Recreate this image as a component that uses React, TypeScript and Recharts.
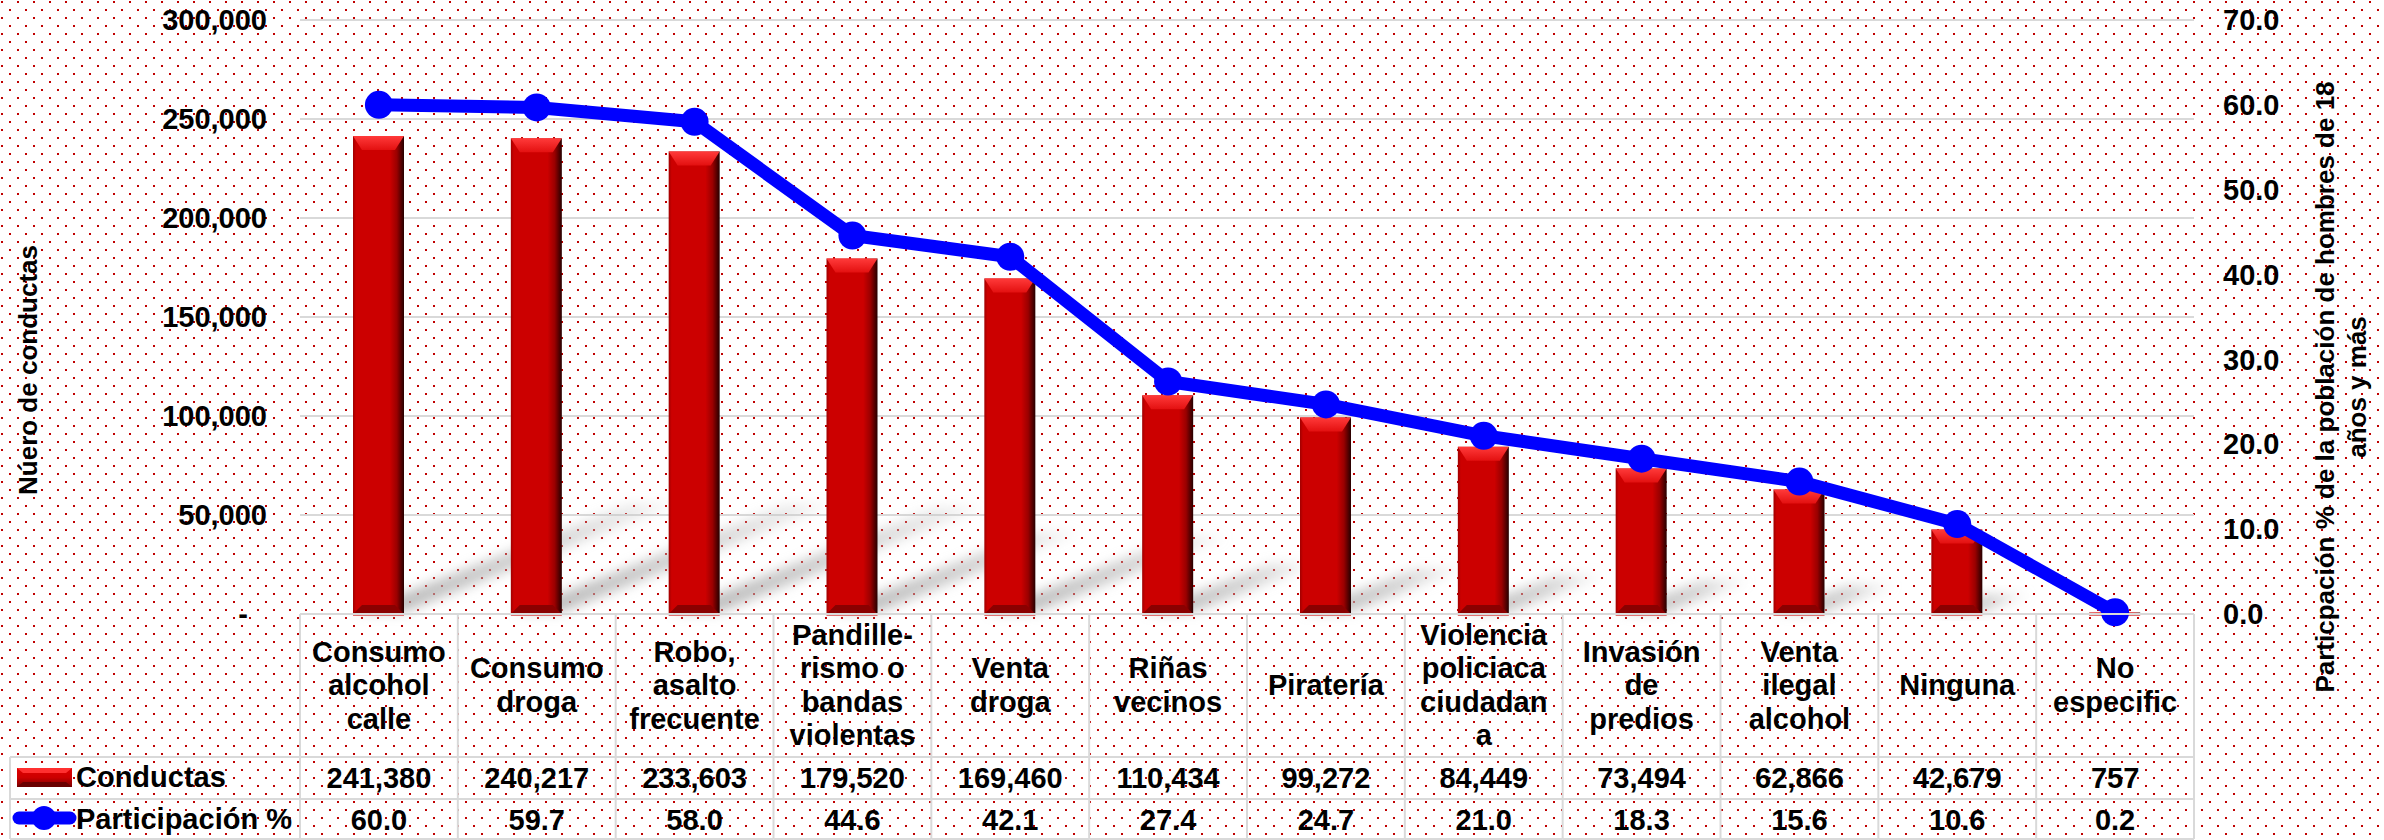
import { Bar, CartesianGrid, ComposedChart, Line, XAxis, YAxis } from "recharts";

const categories = [
  "Consumo\nalcohol\ncalle",
  "Consumo\ndroga",
  "Robo,\nasalto\nfrecuente",
  "Pandille-\nrismo o\nbandas\nviolentas",
  "Venta\ndroga",
  "Riñas\nvecinos",
  "Piratería",
  "Violencia\npoliciaca\nciudadan\na",
  "Invasión\nde\npredios",
  "Venta\nilegal\nalcohol",
  "Ninguna",
  "No\nespecific",
];
const conductas = [
  241380, 240217, 233603, 179520, 169460, 110434, 99272, 84449, 73494, 62866,
  42679, 757,
];
const participacion = [
  60.0, 59.7, 58.0, 44.6, 42.1, 27.4, 24.7, 21.0, 18.3, 15.6, 10.6, 0.2,
];
const conductasTicks = [0, 50000, 100000, 150000, 200000, 250000, 300000];
const participacionTicks = [0, 10, 20, 30, 40, 50, 60, 70];

const data = categories.map((name, i) => ({
  name,
  conductas: conductas[i],
  participacion: participacion[i],
}));

const W = 2384;
const H = 840;
const PLOT_LEFT = 300;
const PLOT_RIGHT = 2194;
const PLOT_BOTTOM = 614;
const COL = (PLOT_RIGHT - PLOT_LEFT) / categories.length;
const ROW1 = 757;
const ROW2 = 799;
const TABLE_BOTTOM = 839;
const LEGEND_LEFT = 10;
const FONT = "'Liberation Sans', Arial, sans-serif";
const GRID = "#d9d9d9";
const RED = "#cc0000";
const BLUE = "#0000ff";

const fmt = (v: number) => v.toLocaleString("en-US");

const LeftTick = ({ x, y, payload }: any) => (
  <text
    x={payload.value === 0 ? x - 19 : x}
    y={y}
    dy="0.35em"
    textAnchor="end"
    fontFamily={FONT}
    fontWeight="bold"
    fontSize={29}
    fill="#000"
  >
    {payload.value === 0 ? "-" : fmt(payload.value)}
  </text>
);

const RightTick = ({ x, y, payload }: any) => (
  <text
    x={x}
    y={y}
    dy="0.35em"
    textAnchor="start"
    fontFamily={FONT}
    fontWeight="bold"
    fontSize={29}
    fill="#000"
  >
    {Number(payload.value).toFixed(1)}
  </text>
);

const LegendCells = () => (
  <g>
    {[ROW1, ROW2, TABLE_BOTTOM].map((yy) => (
      <line key={yy} x1={LEGEND_LEFT} x2={PLOT_LEFT} y1={yy} y2={yy} stroke={GRID} strokeWidth={2} />
    ))}
    <line x1={LEGEND_LEFT} x2={LEGEND_LEFT} y1={ROW1} y2={TABLE_BOTTOM} stroke={GRID} strokeWidth={2} />
    <line x1={PLOT_LEFT} x2={PLOT_LEFT} y1={PLOT_BOTTOM} y2={TABLE_BOTTOM} stroke={GRID} strokeWidth={2} />
    <rect x={17} y={768} width={55} height={19} fill="url(#keyGrad)" />
    <polygon points="17,768 72,768 66,773 23,773" fill="#ff3030" />
    <polygon points="23,782 66,782 72,787 17,787" fill="#6a0000" />
    <text x={76} y={777} dy="0.35em">Conductas</text>
    <line x1={19} x2={70} y1={818} y2={818} stroke={BLUE} strokeWidth={13} strokeLinecap="round" />
    <circle cx={44} cy={818} r={12} fill={BLUE} />
    <text x={76} y={819} dy="0.35em">Participación %</text>
  </g>
);

const TableTick = (props: any) => {
  const { x, payload } = props;
  const index: number =
    typeof props.index === "number" ? props.index : categories.indexOf(payload.value);
  const lines = categories[index].split("\n");
  const lh = 33.5;
  const startY = 685 - ((lines.length - 1) * lh) / 2;
  const left = x - COL / 2;
  const right = x + COL / 2;
  return (
    <g fontFamily={FONT} fontWeight="bold" fontSize={29} fill="#000">
      {[PLOT_BOTTOM, ROW1, ROW2, TABLE_BOTTOM].map((yy) => (
        <line key={yy} x1={left} x2={right} y1={yy} y2={yy} stroke={GRID} strokeWidth={2} />
      ))}
      <line x1={right} x2={right} y1={PLOT_BOTTOM} y2={TABLE_BOTTOM} stroke={GRID} strokeWidth={2} />
      {lines.map((l, k) => (
        <text key={k} x={x} y={startY + k * lh} dy="0.35em" textAnchor="middle">
          {l}
        </text>
      ))}
      <text x={x} y={778} dy="0.35em" textAnchor="middle">
        {fmt(conductas[index])}
      </text>
      <text x={x} y={820} dy="0.35em" textAnchor="middle">
        {participacion[index].toFixed(1)}
      </text>
      {index === 0 && <LegendCells />}
    </g>
  );
};

// 3D bevelled bar with a soft cast shadow that leans up and to the right
const BevelBar = (props: any) => {
  const { x, y, width: w, height: h } = props;
  if (!h || h <= 0) return null;
  const base = y + h;
  const b = Math.min(9, h / 3);
  const t = Math.min(14, h / 3);
  const sx = h * 0.57;
  const sy = h * 0.23;
  return (
    <g>
      <polygon
        points={`${x + 4},${base - 2} ${x + w},${base - 2} ${x + w + sx},${base - sy} ${x + 4 + sx},${base - sy}`}
        fill="url(#shadowGrad)"
        filter="url(#shadowBlur)"
      />
      <rect x={x} y={y} width={w} height={h} fill="url(#barGrad)" />
      <polygon
        points={`${x},${y} ${x + w},${y} ${x + w - 9},${y + t} ${x + 9},${y + t}`}
        fill="url(#topGrad)"
      />
      <polygon
        points={`${x + 9},${base - b} ${x + w - 9},${base - b} ${x + w},${base} ${x},${base}`}
        fill="#8a0000"
      />
      <rect x={x} y={base} width={w} height={2} fill="#e07070" />
    </g>
  );
};

export default function App() {
  return (
    <div style={{ position: "absolute", left: 0, top: 0, width: W, height: H }}>
      <svg width={W} height={H} style={{ position: "absolute", left: 0, top: 0 }}>
        <defs>
          <pattern id="dots" width="16" height="16" patternUnits="userSpaceOnUse">
            <rect width="16" height="16" fill="#ffffff" />
            <rect x="1" y="1" width="2" height="2" fill="#c00000" />
            <rect x="9" y="9" width="2" height="2" fill="#c00000" />
          </pattern>
          <linearGradient id="barGrad" x1="0" x2="1" y1="0" y2="0">
            <stop offset="0" stopColor="#a00000" />
            <stop offset="0.06" stopColor={RED} />
            <stop offset="0.72" stopColor={RED} />
            <stop offset="0.86" stopColor="#9a0000" />
            <stop offset="1" stopColor="#260000" />
          </linearGradient>
          <linearGradient id="topGrad" x1="0" x2="0" y1="0" y2="1">
            <stop offset="0" stopColor="#ff3a3a" />
            <stop offset="1" stopColor="#e31010" />
          </linearGradient>
          <linearGradient id="keyGrad" x1="0" x2="0" y1="0" y2="1">
            <stop offset="0" stopColor="#e00000" />
            <stop offset="0.5" stopColor={RED} />
            <stop offset="1" stopColor="#7a0000" />
          </linearGradient>
          <linearGradient id="shadowGrad" x1="0" x2="1" y1="0" y2="0">
            <stop offset="0" stopColor="#a8a8a8" stopOpacity="0.85" />
            <stop offset="0.6" stopColor="#b8b8b8" stopOpacity="0.6" />
            <stop offset="1" stopColor="#cccccc" stopOpacity="0.2" />
          </linearGradient>
          <filter id="shadowBlur" x="-50%" y="-50%" width="200%" height="200%">
            <feGaussianBlur stdDeviation="6" />
          </filter>
        </defs>
        <rect width={W} height={H} fill="url(#dots)" />
      </svg>
      <ComposedChart
        width={W}
        height={H}
        data={data}
        margin={{ top: 20, right: 0, bottom: 0, left: 0 }}
      >
        <CartesianGrid yAxisId="left" vertical={false} stroke={GRID} strokeWidth={2} />
        <XAxis
          dataKey="name"
          height={226}
          interval={0}
          tickLine={false}
          axisLine={false}
          tickSize={0}
          tick={<TableTick />}
        />
        <YAxis
          yAxisId="left"
          orientation="left"
          width={300}
          domain={[0, 300000]}
          ticks={conductasTicks}
          tickLine={false}
          axisLine={false}
          tickSize={0}
          tickMargin={33}
          tick={<LeftTick />}
        />
        <YAxis
          yAxisId="right"
          orientation="right"
          width={190}
          domain={[0, 70]}
          ticks={participacionTicks}
          tickLine={false}
          axisLine={false}
          tickSize={0}
          tickMargin={29}
          tick={<RightTick />}
        />
        <Bar
          yAxisId="left"
          dataKey="conductas"
          barSize={51}
          fill={RED}
          shape={<BevelBar />}
          isAnimationActive={false}
        />
        <Line
          yAxisId="right"
          dataKey="participacion"
          stroke={BLUE}
          strokeWidth={13}
          strokeLinejoin="round"
          dot={{ r: 14, fill: BLUE, stroke: "none" }}
          activeDot={false}
          isAnimationActive={false}
        />
      </ComposedChart>
      <svg
        width={W}
        height={H}
        style={{ position: "absolute", left: 0, top: 0, pointerEvents: "none" }}
        fontFamily={FONT}
        fontWeight="bold"
        fontSize={26}
        fill="#000"
      >
        <text x={28} y={370} dy="0.35em" textAnchor="middle" transform="rotate(-90 28 370)">
          Núero de conductas
        </text>
        <text x={2325} y={387} dy="0.35em" textAnchor="middle" transform="rotate(-90 2325 387)">
          Particpación % de la población de hombres de 18
        </text>
        <text x={2357} y={387} dy="0.35em" textAnchor="middle" transform="rotate(-90 2357 387)">
          años y más
        </text>
      </svg>
    </div>
  );
}
